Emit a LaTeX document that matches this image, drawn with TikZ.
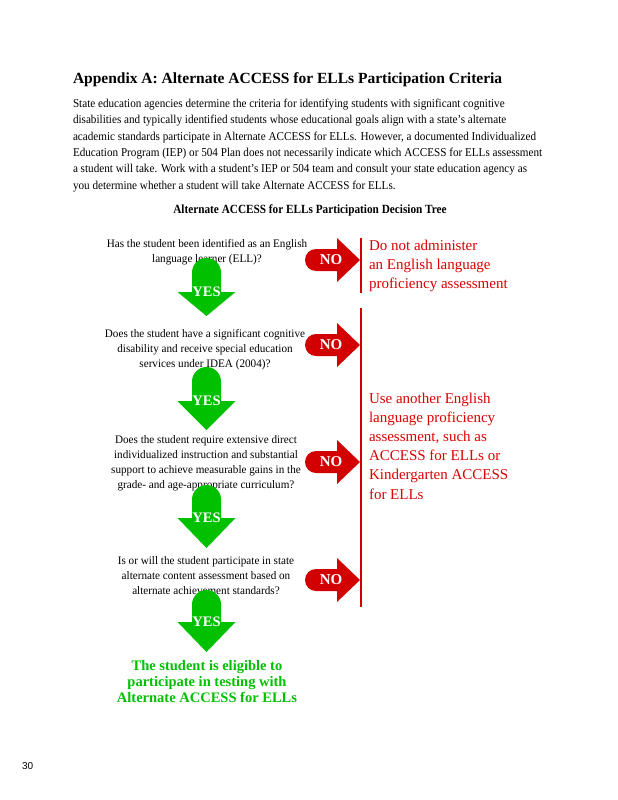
\documentclass[tikz,border=0pt]{standalone}
\usepackage{fontspec}
\setmainfont{Liberation Serif}
\newfontfamily\pagefont{Liberation Sans}
\newfontfamily\bodyfont[FakeStretch=0.93]{Liberation Serif}
\newfontfamily\subfont[FakeStretch=0.90]{Liberation Serif}
\newfontfamily\qfont[FakeStretch=0.97]{Liberation Serif}
\definecolor{nored}{RGB}{210,0,0}
\definecolor{txtred}{RGB}{220,0,0}
\definecolor{yesgreen}{RGB}{0,192,0}
\newcommand{\greenarrow}[5]{% name, cx, top, base, tip
  \fill[yesgreen] (#2-14.5,#4) -- (#2-29,#4) -- (#2,#5) -- (#2+29,#4) -- (#2+14.5,#4)
    -- (#2+14.5,#3+14.5) arc[start angle=0,end angle=180,radius=14.5pt] -- cycle;
  \node[yeslabel] (#1) at (#2,#4) {YES};}
\newcommand{\redarrow}[2]{% name, cy
  \fill[nored] (360,#2) -- (337,#2-22) -- (337,#2-11) -- (316,#2-11)
    arc[start angle=90,end angle=270,radius=11pt] -- (337,#2+11) -- (337,#2+22) -- cycle;
  \node[nolabel] (#1) at (331,#2) {NO};}
\begin{document}
\begin{tikzpicture}[x=1pt,y=-1pt,
  every node/.style={inner sep=0pt,outer sep=0pt},
  qtext/.style={anchor=base,align=center,font=\qfont\fontsize{11.5}{15.2}\selectfont},
  redtext/.style={anchor=base west,align=left,text=txtred,font=\fontsize{15}{19.2}\selectfont},
  yeslabel/.style={text=white,font=\bfseries\fontsize{14.5}{15}\selectfont},
  nolabel/.style={text=white,font=\bfseries\fontsize{15}{16}\selectfont},
  redrule/.style={draw=nored,line width=1.2pt}]
\useasboundingbox (0,0) rectangle (618,800);
\fill[white] (0,0) rectangle (618,800);

% (multi-line nodes: the base anchor lies on the last line's baseline)
\node[anchor=base west,font=\bfseries\fontsize{15.5}{19}\selectfont] (title) at (73,83)
  {Appendix A: Alternate ACCESS for ELLs Participation Criteria};

\node[anchor=base west,align=left,font=\bodyfont\fontsize{12}{16.3}\selectfont] (intro) at (73,189)
  {State education agencies determine the criteria for identifying students with significant cognitive\\
   disabilities and typically identified students whose educational goals align with a state’s alternate\\
   academic standards participate in Alternate ACCESS for ELLs. However, a documented Individualized\\
   Education Program (IEP) or 504 Plan does not necessarily indicate which ACCESS for ELLs assessment\\
   a student will take. Work with a student’s IEP or 504 team and consult your state education agency as\\
   you determine whether a student will take Alternate ACCESS for ELLs.};

\node[anchor=base,font=\subfont\bfseries\fontsize{12.5}{15}\selectfont] (subtitle) at (310,213)
  {Alternate ACCESS for ELLs Participation Decision Tree};

\node[qtext] (q1) at (207,262.2) {Has the student been identified as an English\\ language learner (ELL)?};
\node[qtext] (q2) at (205,367.4) {Does the student have a significant cognitive\\ disability and receive special education\\ services under IDEA (2004)?};
\node[qtext] (q3) at (206,488.6) {Does the student require extensive direct\\ individualized instruction and substantial\\ support to achieve measurable gains in the\\ grade- and age-appropriate curriculum?};
\node[qtext] (q4) at (206,594.5) {Is or will the student participate in state\\ alternate content assessment based on\\ alternate achievement standards?};

\greenarrow{yes1}{206.5}{258}{292}{316}
\greenarrow{yes2}{206.5}{367}{401}{430}
\greenarrow{yes3}{206.5}{485}{518}{548}
\greenarrow{yes4}{206.5}{590}{622}{652}

\node[anchor=base,align=center,text=yesgreen,font=\bfseries\fontsize{14.5}{16}\selectfont] (eligible) at (207,702)
  {The student is eligible to\\ participate in testing with\\ Alternate ACCESS for ELLs};

\redarrow{no1}{260}
\redarrow{no2}{345}
\redarrow{no3}{462}
\redarrow{no4}{580}

\draw[redrule] (361,238) -- (361,293);
\draw[redrule] (361,308) -- (361,607);

\node[redtext] (out1) at (369,288.4) {Do not administer\\ an English language\\ proficiency assessment};
\node[redtext] (out2) at (369,499) {Use another English\\ language proficiency\\ assessment, such as\\ ACCESS for ELLs or\\ Kindergarten ACCESS\\ for ELLs};

\node[anchor=base west,font=\pagefont\fontsize{10}{12}\selectfont] (pnum) at (22,769) {30};
\end{tikzpicture}
\end{document}
